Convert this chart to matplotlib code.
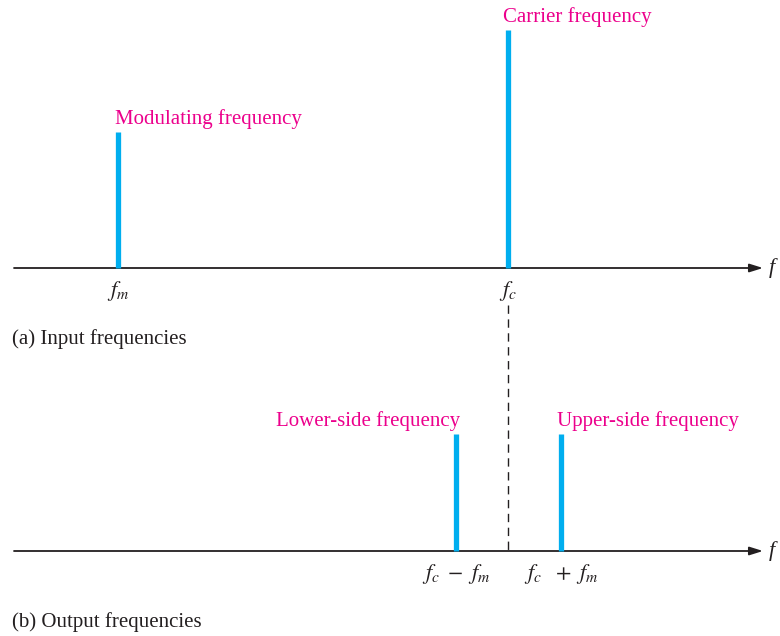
import matplotlib
matplotlib.use("Agg")
import matplotlib.pyplot as plt

plt.rcParams["font.family"] = ["Liberation Serif", "DejaVu Serif"]
plt.rcParams["mathtext.fontset"] = "stix"

# positions along the frequency axis (drawing units) and line heights
input_pos = [118, 508]
input_height = [136, 238]
input_labels = ["Modulating frequency", "Carrier frequency"]
input_ticks = [r"$f_m$", r"$f_c$"]

output_pos = [456, 561]
output_height = [117, 117]
output_labels = ["Lower-side frequency", "Upper-side frequency"]
output_ticks = [r"$f_c\ -\ f_m$", r"$f_c\ \ +\ f_m$"]

CYAN = "#00aeef"
MAGENTA = "#ec008c"
DARK = "#231f20"

fig = plt.figure(figsize=(7.8, 6.36), dpi=100)
ax = fig.add_axes([0, 0, 1, 1])
ax.set_xlim(0, 780)
ax.set_ylim(636, 0)
ax.axis("off")


def panel(base, pos, height, labels, ticks, caption, cap_y, label_dx, label_ha):
    ax.annotate("", xy=(763, base), xytext=(14, base),
                arrowprops=dict(arrowstyle="-|>,head_length=0.8,head_width=0.25",
                                color=DARK, lw=1.3, shrinkA=0, shrinkB=0))
    ax.text(769, base, "f", fontsize=16, style="italic", color=DARK,
            ha="left", va="center")
    ax.vlines(pos, base, [base - h for h in height], color=CYAN, lw=3.8, zorder=3)
    for p, h, lab, tk, dx, ha in zip(pos, height, labels, ticks, label_dx, label_ha):
        ax.text(p + dx, base - h - 3, lab, fontsize=15, color=MAGENTA,
                ha=ha, va="bottom")
        ax.text(p, base + 11, tk, fontsize=16, color=DARK, ha="center", va="top")
    ax.text(12, cap_y, caption, fontsize=15, color=DARK, ha="left", va="center")


panel(268, input_pos, input_height, input_labels, input_ticks,
      "(a) Input frequencies", 339, [-3, -5], ["left", "left"])
panel(551, output_pos, output_height, output_labels, output_ticks,
      "(b) Output frequencies", 622, [4, -4], ["right", "left"])

# dashed guide from carrier down to the output axis
ax.plot([input_pos[1], input_pos[1]], [305, 551], color=DARK, lw=1.0,
        ls=(0, (6, 4)))

fig.savefig("out.png", dpi=100)
